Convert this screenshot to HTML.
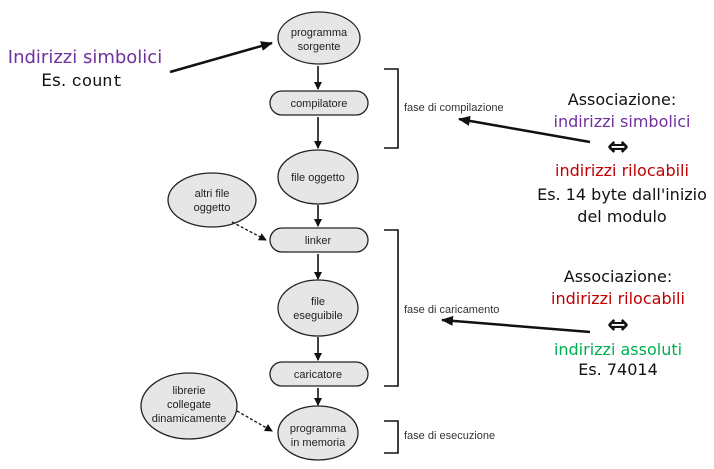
<!DOCTYPE html>
<html><head><meta charset="utf-8"><style>
body{margin:0;background:#fff}
svg{display:block}
.n{font-family:"Liberation Sans",sans-serif;font-size:11px;fill:#222;text-anchor:middle}
.l{font-family:"Liberation Sans",sans-serif;font-size:11px;fill:#333}
.c{font-family:"DejaVu Sans",sans-serif;font-size:16px;text-anchor:middle}
</style></head><body>
<svg width="714" height="469" viewBox="0 0 714 469" xmlns="http://www.w3.org/2000/svg">
<defs>
<marker id="a" markerWidth="8" markerHeight="8" refX="7" refY="4" orient="auto" markerUnits="userSpaceOnUse"><path d="M0,0 L8,4 L0,8 z" fill="#111"/></marker>
<marker id="b" markerWidth="12" markerHeight="10" refX="11" refY="5" orient="auto" markerUnits="userSpaceOnUse"><path d="M0,0 L12,5 L0,10 z" fill="#111"/></marker>
</defs>
<g fill="#e6e6e6" stroke="#222" stroke-width="1.3">
<ellipse cx="319" cy="38" rx="41" ry="26"/>
<rect x="270" y="91" width="98" height="24" rx="12"/>
<ellipse cx="318" cy="177" rx="40" ry="27"/>
<rect x="270" y="228" width="98" height="24" rx="12"/>
<ellipse cx="318" cy="308" rx="40" ry="28"/>
<rect x="270" y="362" width="98" height="24" rx="12"/>
<ellipse cx="318" cy="433" rx="40" ry="27"/>
<ellipse cx="212" cy="200" rx="44" ry="27"/>
<ellipse cx="189" cy="406" rx="48" ry="33"/>
</g>
<text class="n" x="319" y="36">programma</text><text class="n" x="319" y="50">sorgente</text>
<text class="n" x="319" y="107">compilatore</text>
<text class="n" x="318" y="181">file oggetto</text>
<text class="n" x="318" y="244">linker</text>
<text class="n" x="318" y="305">file</text><text class="n" x="318" y="319">eseguibile</text>
<text class="n" x="318" y="378">caricatore</text>
<text class="n" x="318" y="432">programma</text><text class="n" x="318" y="446">in memoria</text>
<text class="n" x="212" y="197">altri file</text><text class="n" x="212" y="211">oggetto</text>
<text class="n" x="189" y="394">librerie</text><text class="n" x="189" y="408">collegate</text><text class="n" x="189" y="422">dinamicamente</text>
<g stroke="#111" stroke-width="1.6" fill="none">
<line x1="318" y1="66" x2="318" y2="89" marker-end="url(#a)"/>
<line x1="318" y1="117" x2="318" y2="148" marker-end="url(#a)"/>
<line x1="318" y1="205" x2="318" y2="226" marker-end="url(#a)"/>
<line x1="318" y1="254" x2="318" y2="279" marker-end="url(#a)"/>
<line x1="318" y1="337" x2="318" y2="360" marker-end="url(#a)"/>
<line x1="318" y1="388" x2="318" y2="405" marker-end="url(#a)"/>
<path d="M384,69 H398 V148 H384"/>
<path d="M384,230 H398 V386 H384"/>
<path d="M384,421 H398 V453 H384"/>
</g>
<g stroke="#111" stroke-width="1.3" stroke-dasharray="3,2" fill="none">
<line x1="232" y1="222" x2="266" y2="240" marker-end="url(#a)"/>
<line x1="237" y1="411" x2="272" y2="431" marker-end="url(#a)"/>
</g>
<g stroke="#111" stroke-width="2.5" fill="none">
<line x1="170" y1="72" x2="272" y2="43" marker-end="url(#b)"/>
<line x1="590" y1="142" x2="459" y2="119" marker-end="url(#b)"/>
<line x1="590" y1="332" x2="442" y2="320" marker-end="url(#b)"/>
</g>
<text class="l" x="404" y="111">fase di compilazione</text>
<text class="l" x="404" y="313">fase di caricamento</text>
<text class="l" x="404" y="439">fase di esecuzione</text>
<text class="c" x="85" y="63" style="font-size:18px" fill="#7030a0">Indirizzi simbolici</text>
<text class="c" x="82" y="86" style="font-size:17px" fill="#111">Es. <tspan font-family="Liberation Mono,monospace">count</tspan></text>
<text class="c" x="622" y="105" fill="#111">Associazione:</text>
<text class="c" x="622" y="127" fill="#7030a0">indirizzi simbolici</text>
<text class="c" x="618" y="155" style="font-size:26px;font-weight:bold" fill="#111">⇔</text>
<text class="c" x="622" y="176" fill="#c00000">indirizzi rilocabili</text>
<text class="c" x="622" y="200" fill="#111">Es. 14 byte dall'inizio</text>
<text class="c" x="622" y="222" fill="#111">del modulo</text>
<text class="c" x="618" y="282" fill="#111">Associazione:</text>
<text class="c" x="618" y="304" fill="#c00000">indirizzi rilocabili</text>
<text class="c" x="618" y="333" style="font-size:26px;font-weight:bold" fill="#111">⇔</text>
<text class="c" x="618" y="355" fill="#00b050">indirizzi assoluti</text>
<text class="c" x="618" y="375" fill="#111">Es. 74014</text>
</svg>
</body></html>
